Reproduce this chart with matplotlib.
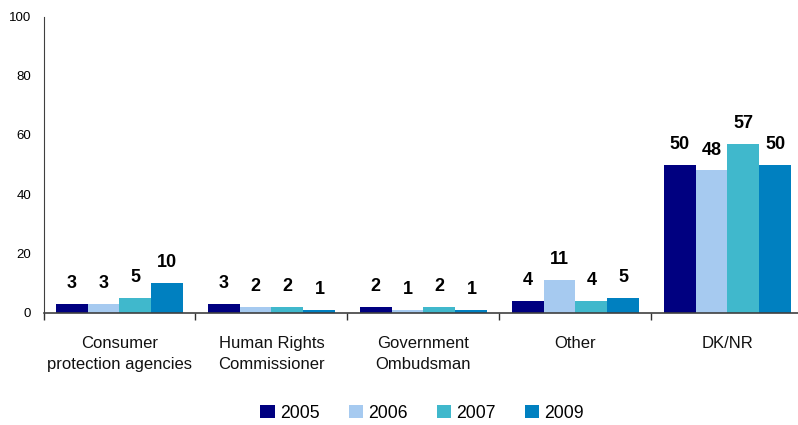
import matplotlib
matplotlib.use("Agg")
import matplotlib.pyplot as plt
import numpy as np

categories = ["Consumer\nprotection agencies", "Human Rights\nCommissioner",
              "Government\nOmbudsman", "Other", "DK/NR"]
years = ["2005", "2006", "2007", "2009"]
v2005 = [3, 3, 2, 4, 50]
v2006 = [3, 2, 1, 11, 48]
v2007 = [5, 2, 2, 4, 57]
v2009 = [10, 1, 1, 5, 50]
colors = ["#000080", "#A6CAF0", "#40B8CC", "#0080C0"]
yticks = [0, 20, 40, 60, 80, 100]

plt.rcParams['font.family'] = ['Liberation Sans', 'DejaVu Sans']

fig = plt.figure(figsize=(7.98, 4.25), dpi=100)
ax = fig.add_axes([43.5/798, 112.5/425, 760/798, 296/425])

series = [v2005, v2006, v2007, v2009]
n = len(series)
group_w = 0.84
bw = group_w / n
x = np.arange(len(categories))
for i, (vals, c, lab) in enumerate(zip(series, colors, years)):
    pos = x - group_w/2 + bw/2 + i*bw
    ax.bar(pos, vals, width=bw, color=c, label=lab, zorder=2)
    for p, v in zip(pos, vals):
        ax.text(p, v + 4, f"{v}", ha="center", va="bottom",
                fontsize=13, fontweight="bold", color="black")

ax.set_xlim(-0.5, len(categories) - 0.5)
ax.set_ylim(0, 100)
ax.set_yticks(yticks)
ax.set_yticklabels([str(t) for t in yticks], fontsize=9.5)
ax.tick_params(axis='y', length=0, pad=9)
ax.set_xticks(x)
ax.set_xticklabels(categories, fontsize=12, linespacing=1.45, color='#111111')
ax.tick_params(axis='x', length=0, pad=17)
ax.set_xticks(np.arange(len(categories) + 1) - 0.5, minor=True)
ax.tick_params(axis='x', which='minor', length=5, width=1, direction='out', color='#303030')
for s in ['top', 'right']:
    ax.spines[s].set_visible(False)
ax.spines['left'].set_color('#404040')
ax.spines['bottom'].set_color('#404040')
ax.spines['bottom'].set_linewidth(1.2)

fig.legend(loc='center', bbox_to_anchor=(422/798, 1 - 413/425), ncol=4, frameon=False,
           fontsize=12.7, handlelength=0.8, handleheight=0.8,
           handletextpad=0.3, columnspacing=1.65)

fig.savefig("out.png", dpi=100)
